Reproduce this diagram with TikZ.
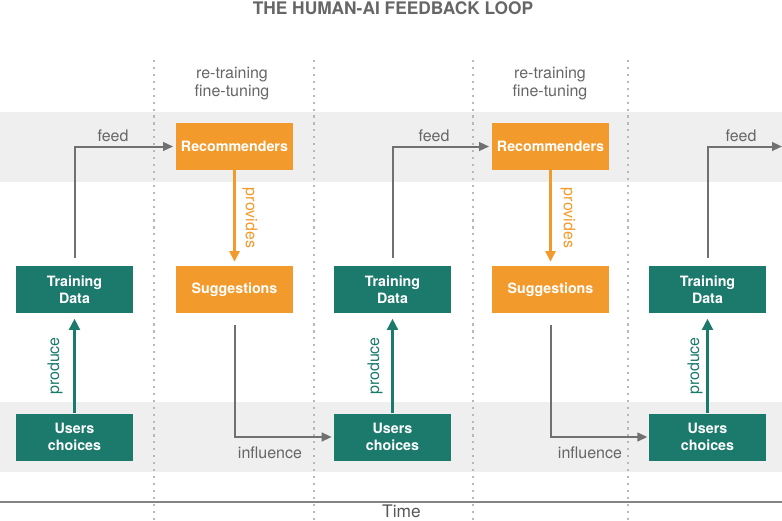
\documentclass[tikz,border=0pt]{standalone}
\usepackage{fontspec}
\setmainfont{TeX Gyre Heros}
\usetikzlibrary{arrows.meta,calc}
\definecolor{teal1}{HTML}{1B7A6C}
\definecolor{orange1}{HTML}{F39A2C}
\definecolor{band}{HTML}{EFEFEF}
\definecolor{linegray}{HTML}{707070}
\definecolor{textgray}{HTML}{666666}
\definecolor{dotgray}{HTML}{B8B8B8}
\tikzset{
  box/.style={minimum width=87.75pt, minimum height=35.25pt, inner sep=0pt, align=center, text=white,
    font=\fontsize{10.7pt}{12.75pt}\selectfont\bfseries},
  tealbox/.style={box, fill=teal1},
  orangebox/.style={box, fill=orange1},
  lbl/.style={font=\fontsize{12pt}{13.5pt}\selectfont, text=textgray, inner sep=0pt},
  grayarrow/.style={draw=linegray, line width=1.5pt, -{Triangle[length=7.5pt,width=6.5pt]}},
  orangearrow/.style={draw=orange1, line width=2.2pt, -{Triangle[length=8pt,width=7.5pt]}},
  tealarrow/.style={draw=teal1, line width=2.5pt, -{Triangle[length=8.5pt,width=8pt]}},
  divider/.style={draw=dotgray, line width=0.8pt, dash pattern=on 1.6pt off 3.6pt},
}
\begin{document}
\begin{tikzpicture}[x=0.75pt,y=-0.75pt]
\useasboundingbox (0,0) rectangle (782,521);
% bands
\fill[band] (0,112) rectangle (782,182);
\fill[band] (0,402) rectangle (782,472);
% dividers
\foreach \xx in {154,314,473,628} \draw[divider] (\xx,60) -- (\xx,521);
% time axis
\draw[draw=linegray!85, line width=1.5pt] (0,502) -- (782,502);
\node[font=\fontsize{13pt}{15pt}\selectfont, text=textgray!85!black, anchor=base, inner sep=0pt] (time) at (401.5,517.5) {Time};
% title
\node[font=\fontsize{13pt}{15pt}\selectfont\bfseries, text=textgray, anchor=base, inner sep=0pt] (title) at (393,14) {THE HUMAN-AI FEEDBACK LOOP};
% nodes
\node[tealbox] (td1) at (74.5,289.5) {Training\\Data};
\node[tealbox] (uc1) at (74.5,437) {Users\\choices};
\node[orangebox] (r1) at (234.5,146.5) {Recommenders};
\node[orangebox] (s1) at (234.5,289.5) {Suggestions};
\node[tealbox] (td2) at (392.5,289.5) {Training\\Data};
\node[tealbox] (uc2) at (392.5,437) {Users\\choices};
\node[orangebox] (r2) at (550.5,146.5) {Recommenders};
\node[orangebox] (s2) at (550.5,289.5) {Suggestions};
\node[tealbox] (td3) at (707.5,289.5) {Training\\Data};
\node[tealbox] (uc3) at (707.5,437) {Users\\choices};
\coordinate (end3) at (782,146.5);
% retraining labels
\node[lbl, align=center] (rt1) at (232,84) {re-training\\fine-tuning};
\node[lbl, align=center] (rt2) at (550,84) {re-training\\fine-tuning};
% feed arrows
\draw[grayarrow] ([yshift=6pt]td1.north) |- ([xshift=-2pt]r1.west);
\draw[grayarrow] ([yshift=6pt]td2.north) |- ([xshift=-2pt]r2.west);
\draw[grayarrow] ([yshift=6pt]td3.north) |- (end3);
\node[lbl, anchor=base] (f1) at (113,141) {feed};
\node[lbl, anchor=base] (f2) at (434,141) {feed};
\node[lbl, anchor=base] (f3) at (741,141) {feed};
% provides
\draw[orangearrow] (r1.south) -- ([yshift=3pt]s1.north);
\draw[orangearrow] (r2.south) -- ([yshift=3pt]s2.north);
\node[lbl, text=orange1, rotate=-90] (p1) at (250,218) {provides};
\node[lbl, text=orange1, rotate=-90] (p2) at (568,218) {provides};
% influence
\draw[grayarrow] ([yshift=-9pt]s1.south) |- ([xshift=-1.5pt]uc2.west);
\draw[grayarrow] ([yshift=-9pt]s2.south) |- ([xshift=-1pt]uc3.west);
\node[lbl, anchor=base] (i1) at (270,458) {influence};
\node[lbl, anchor=base] (i2) at (590,458) {influence};
% produce
\draw[tealarrow] (uc1.north) -- ([yshift=-4pt]td1.south);
\draw[tealarrow] (uc2.north) -- ([yshift=-4pt]td2.south);
\draw[tealarrow] (uc3.north) -- ([yshift=-4pt]td3.south);
\node[lbl, text=teal1, rotate=90] (pr1) at (55,366) {produce};
\node[lbl, text=teal1, rotate=90] (pr2) at (375,366) {produce};
\node[lbl, text=teal1, rotate=90] (pr3) at (695,366) {produce};
\end{tikzpicture}
\end{document}
